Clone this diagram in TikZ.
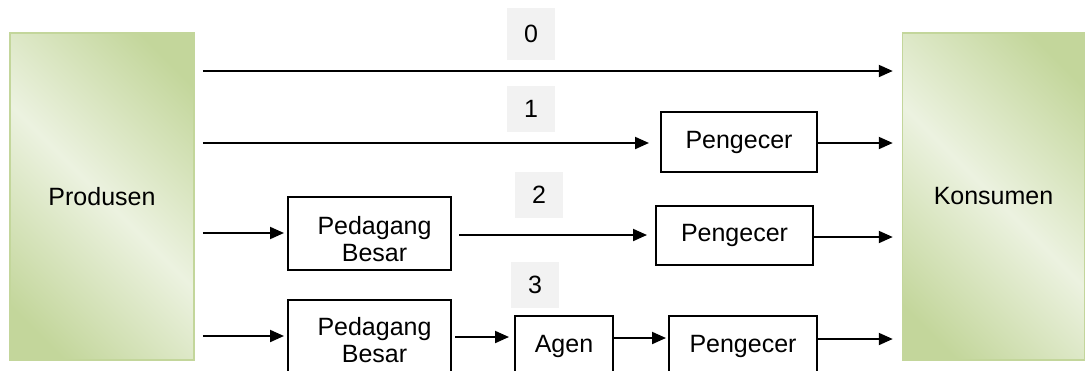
\documentclass[tikz,border=0pt]{standalone}
\usepackage{fontspec}
\setmainfont{Liberation Sans}
\usetikzlibrary{arrows.meta}
\definecolor{gdark}{RGB}{195,214,155}
\definecolor{glight}{RGB}{236,242,224}
\definecolor{gborder}{RGB}{195,214,155}
\definecolor{lblfill}{RGB}{242,242,242}
\pgfdeclarehorizontalshading{greenwave}{100bp}{color(0bp)=(gdark); color(22bp)=(gdark); color(50bp)=(glight); color(78bp)=(gdark); color(100bp)=(gdark)}
\tikzset{
  mainbox/.style={draw=gborder, line width=1.5pt, shading=greenwave, shading angle=45, inner sep=0pt},
  stepbox/.style={draw=black, line width=2pt, fill=white, inner sep=0pt, align=center},
  boxtext/.style={inner sep=0pt, align=center},
  lbl/.style={fill=lblfill, inner sep=0pt, minimum width=48pt},
  arr/.style={line width=2pt, -{Triangle[length=14pt,width=12pt]}},
}
\begin{document}
\begin{tikzpicture}[x=1pt,y=-1pt,font=\fontsize{25}{27}\selectfont]
\useasboundingbox (0,0) rectangle (1086,370);
\clip (0,0) rectangle (1086,370);
% main boxes
\node[mainbox, minimum width=184pt, minimum height=327pt] (prod) at (102,196.5) {Produsen};
\node[mainbox, minimum width=182pt, minimum height=327pt] (kons) at (993.5,196.5) {Konsumen};
% step boxes
\node[stepbox, minimum width=156pt, minimum height=60pt] (p1) at (739,142) {Pengecer};
\node[stepbox, minimum width=163pt, minimum height=73pt] (pb2) at (369.5,233.5) {};
\node[boxtext] (pb2t) at ([xshift=5pt,yshift=-6pt]pb2.center) {Pedagang\\Besar};
\node[stepbox, minimum width=157pt, minimum height=59pt] (p2) at (734.5,235.5) {Pengecer};
\node[stepbox, minimum width=163pt, minimum height=73pt] (pb3) at (369.5,336.5) {};
\node[boxtext] (pb3t) at ([xshift=5pt,yshift=-4pt]pb3.center) {Pedagang\\Besar};
\node[stepbox, minimum width=98pt, minimum height=60pt] (agen) at (564,346) {Agen};
\node[stepbox, minimum width=148pt, minimum height=60pt] (p3) at (743,346) {Pengecer};
% labels
\node[lbl, minimum height=52pt] (l0) at (531,34) {0};
\node[lbl, minimum height=46pt] (l1) at (531,109) {1};
\node[lbl, minimum height=46pt] (l2) at (539,195) {2};
\node[lbl, minimum height=46pt] (l3) at (535,285) {3};
% row coordinates
\coordinate (r0) at (0,71);
\coordinate (r1) at (0,143);
\coordinate (r2a) at (0,233);
\coordinate (r2b) at (0,235);
\coordinate (r2c) at (0,237);
\coordinate (r3a) at (0,336);
\coordinate (r3b) at (0,337);
\coordinate (r3c) at (0,338);
\coordinate (r3d) at (0,339);
% row 0
\draw[arr, shorten <=8pt, shorten >=9pt] (prod.east |- r0) -- (kons.west |- r0);
% row 1
\draw[arr, shorten <=8pt, shorten >=11pt] (prod.east |- r1) -- (p1.west |- r1);
\draw[arr, shorten >=9pt] (p1.east |- r1) -- (kons.west |- r1);
% row 2
\draw[arr, shorten <=8pt, shorten >=3pt] (prod.east |- r2a) -- (pb2.west |- r2a);
\draw[arr, shorten <=7pt, shorten >=8pt] (pb2.east |- r2b) -- (p2.west |- r2b);
\draw[arr, shorten >=9pt] (p2.east |- r2c) -- (kons.west |- r2c);
% row 3
\draw[arr, shorten <=8pt, shorten >=3pt] (prod.east |- r3a) -- (pb3.west |- r3a);
\draw[arr, shorten <=3pt, shorten >=5pt] (pb3.east |- r3b) -- (agen.west |- r3b);
\draw[arr, shorten >=2pt] (agen.east |- r3c) -- (p3.west |- r3c);
\draw[arr, shorten >=9pt] (p3.east |- r3d) -- (kons.west |- r3d);
\end{tikzpicture}
\end{document}
